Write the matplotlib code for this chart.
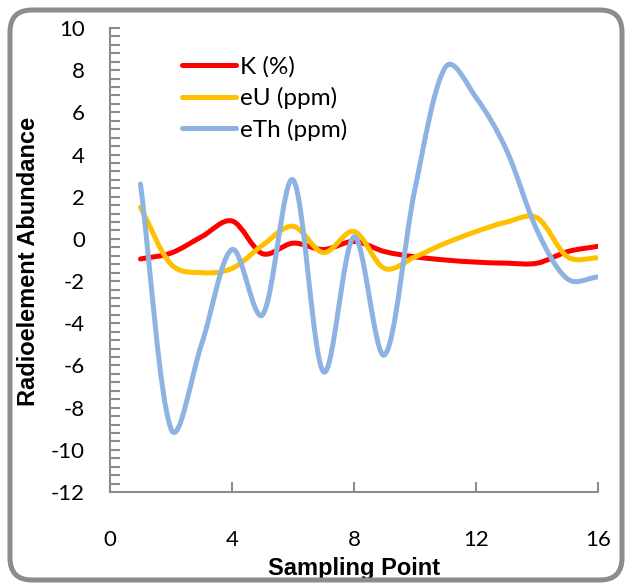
import matplotlib
matplotlib.use("Agg")
import numpy as np
import matplotlib.pyplot as plt
from matplotlib.path import Path
from matplotlib.patches import PathPatch, FancyBboxPatch
from matplotlib.lines import Line2D
from matplotlib.transforms import IdentityTransform
from matplotlib.ticker import MultipleLocator

sampling_point = [1, 2, 3, 4, 5, 6, 7, 8, 9, 10, 11, 12, 13, 14, 15, 16]
k_pct = [-0.95, -0.67, 0.1, 0.85, -0.7, -0.2, -0.5, -0.12, -0.6, -0.85, -1.0, -1.1, -1.15, -1.15, -0.6, -0.35]
eu_ppm = [1.5, -1.2, -1.6, -1.4, -0.3, 0.6, -0.65, 0.35, -1.4, -0.85, -0.2, 0.35, 0.8, 1.0, -0.85, -0.9]
eth_ppm = [2.6, -9.0, -5.0, -0.5, -3.6, 2.8, -6.3, 0.1, -5.5, 2.4, 8.15, 6.7, 4.2, 0.4, -1.9, -1.8]
series_names = ["K (%)", "eU (ppm)", "eTh (ppm)"]
series_colors = ["#FF0000", "#FFC000", "#8DB3E2"]

FONT = "Lato"
plt.rcParams["font.family"] = [FONT, "DejaVu Sans"]
plt.rcParams["axes.unicode_minus"] = False


def smooth_path(ax, xs, ys, blend=0.35):
    """Excel-like smoothed line built from cubic Bezier segments."""
    pts = np.column_stack([xs, ys]).astype(float)
    scr = ax.transData.transform(pts)
    n = len(pts)
    d = np.hypot(*np.diff(scr, axis=0).T)
    verts = [tuple(pts[0])]
    codes = [Path.MOVETO]
    for i in range(n - 1):
        i0 = max(i - 1, 0)
        i3 = min(i + 2, n - 1)
        if i0 == i:
            c1 = pts[i] + (pts[i + 1] - pts[i]) / 3.0
        else:
            f = (2 * d[i] / (d[i0] + d[i])) ** blend
            c1 = pts[i] + (pts[i + 1] - pts[i0]) / 6.0 * f
        if i3 == i + 1:
            c2 = pts[i + 1] - (pts[i + 1] - pts[i]) / 3.0
        else:
            f = (2 * d[i] / (d[i] + d[i + 1])) ** blend
            c2 = pts[i + 1] - (pts[i3] - pts[i]) / 6.0 * f
        verts += [tuple(c1), tuple(c2), tuple(pts[i + 1])]
        codes += [Path.CURVE4] * 3
    return Path(verts, codes)


fig = plt.figure(figsize=(6.25, 5.83), dpi=100)
ax = fig.add_axes([0.176, 0.156, 0.781, 0.796])
ax.set_xlim(0, 16)
ax.set_ylim(-12, 10)

for ys, c in zip([k_pct, eu_ppm, eth_ppm], series_colors):
    ax.add_patch(PathPatch(smooth_path(ax, sampling_point, ys), facecolor="none",
                           edgecolor=c, lw=3.6, capstyle="round", joinstyle="round"))

ax.xaxis.set_major_locator(MultipleLocator(4))
ax.yaxis.set_major_locator(MultipleLocator(2))
ax.yaxis.set_minor_locator(MultipleLocator(0.4))

for s in ["top", "right"]:
    ax.spines[s].set_visible(False)
for s in ["left", "bottom"]:
    ax.spines[s].set_color("#8C8C8C")
    ax.spines[s].set_linewidth(1.5)

ax.tick_params(axis="both", which="both", direction="in", color="#8C8C8C", width=1.5)
ax.tick_params(axis="x", which="major", length=7, pad=27, labelsize=16)
ax.tick_params(axis="y", which="major", length=7, pad=18, labelsize=16)
ax.tick_params(axis="y", which="minor", length=7)

ax.set_xlabel("Sampling Point", fontfamily="Liberation Sans", fontweight="bold", fontsize=17)
ax.set_ylabel("Radioelement Abundance", fontfamily="Liberation Sans", fontweight="bold", fontsize=17)
ax.xaxis.set_label_coords(0.5, -0.164)
ax.xaxis.label.set_va("center")
ax.yaxis.set_label_coords(-0.166, 0.498)
ax.yaxis.label.set_va("center")

handles = [Line2D([], [], color=c, lw=3.6, solid_capstyle="round") for c in series_colors]
ax.legend(handles, series_names, loc="upper left", bbox_to_anchor=(0.148, 0.94),
          frameon=False, fontsize=17.5, handlelength=2.2, handletextpad=0.16,
          labelspacing=0.4, borderaxespad=0, borderpad=0)

border = FancyBboxPatch((10, 3), 612, 570, boxstyle="round,pad=0,rounding_size=22",
                        transform=IdentityTransform(), facecolor="none",
                        edgecolor="#8C8C8C", lw=3.6)
fig.patches.append(border)

fig.savefig("out.png", dpi=100)
